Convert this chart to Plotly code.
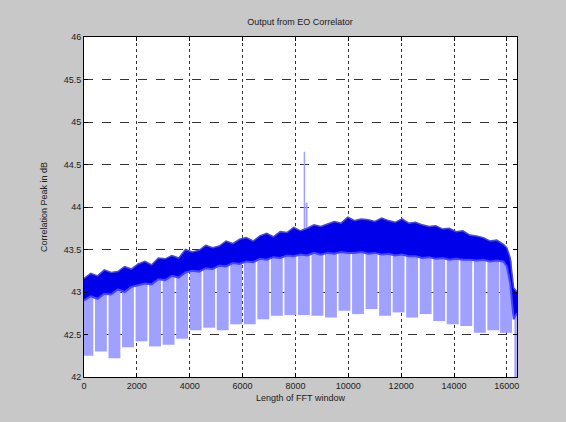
import numpy as np
import plotly.graph_objects as go

# ---- data ----
band_x = [0, 256, 512, 768, 1024, 1280, 1536, 1792, 2048, 2304, 2560, 2816, 3072, 3328,
          3584, 3840, 4096, 4352, 4608, 4864, 5120, 5376, 5632, 5888, 6144, 6400, 6656,
          6912, 7168, 7424, 7680, 7936, 8192, 8448, 8704, 8960, 9216, 9472, 9728, 9984,
          10240, 10496, 10752, 11008, 11264, 11520, 11776, 12032, 12288, 12544, 12800,
          13056, 13312, 13568, 13824, 14080, 14336, 14592, 14848, 15104, 15360, 15616,
          15872, 16000, 16128, 16256, 16384]
band_hi = [43.16, 43.22, 43.19, 43.26, 43.23, 43.24, 43.30, 43.27, 43.33, 43.36, 43.32,
           43.40, 43.39, 43.43, 43.40, 43.50, 43.47, 43.49, 43.55, 43.52, 43.54, 43.60,
           43.57, 43.62, 43.64, 43.60, 43.66, 43.69, 43.65, 43.71, 43.70, 43.76, 43.72,
           43.75, 43.79, 43.77, 43.80, 43.83, 43.81, 43.88, 43.84, 43.86, 43.85, 43.83,
           43.87, 43.84, 43.82, 43.86, 43.81, 43.82, 43.79, 43.77, 43.78, 43.74, 43.75,
           43.71, 43.72, 43.67, 43.66, 43.64, 43.60, 43.61, 43.56, 43.52, 43.40, 43.05,
           43.00]
band_lo = [42.90, 42.95, 42.92, 42.98, 42.97, 43.03, 43.00, 43.06, 43.08, 43.10, 43.09,
           43.15, 43.14, 43.19, 43.17, 43.23, 43.25, 43.24, 43.28, 43.27, 43.31, 43.30,
           43.34, 43.33, 43.36, 43.35, 43.39, 43.38, 43.41, 43.40, 43.43, 43.42, 43.44,
           43.43, 43.46, 43.44, 43.46, 43.45, 43.47, 43.46, 43.46, 43.47, 43.45, 43.46,
           43.44, 43.45, 43.43, 43.44, 43.42, 43.42, 43.40, 43.41, 43.39, 43.40, 43.38,
           43.39, 43.38, 43.38, 43.37, 43.38, 43.36, 43.37, 43.36, 43.30, 43.10, 42.68,
           42.75]

dip_x = [128, 640, 1152, 1664, 2176, 2688, 3200, 3712, 4224, 4736, 5248, 5760, 6272,
         6784, 7296, 7808, 8320, 8832, 9344, 9856, 10368, 10880, 11392, 11904, 12416,
         12928, 13440, 13952, 14464, 14976, 15488, 15968]
dip_lo = [42.25, 42.30, 42.22, 42.35, 42.42, 42.36, 42.38, 42.45, 42.55, 42.58, 42.55,
          42.62, 42.62, 42.68, 42.72, 42.73, 42.73, 42.72, 42.70, 42.78, 42.74, 42.80,
          42.72, 42.76, 42.70, 42.74, 42.66, 42.62, 42.60, 42.52, 42.55, 42.52]

end_dip_x = [16330]
end_dip_lo = [42.0]
end_dip_hi = [43.0]

spike_x = [8340, 8340, 8420, 8420]
spike_y = [43.70, 44.65, 43.75, 44.05]

x_ticks = [0, 2000, 4000, 6000, 8000, 10000, 12000, 14000, 16000]
x_tick_labels = ["0", "2000", "4000", "6000", "8000", "10000", "12000", "14000", "16000"]
y_ticks = [42, 42.5, 43, 43.5, 44, 44.5, 45, 45.5, 46]
y_tick_labels = ["42", "42.5", "43", "43.5", "44", "44.5", "45", "45.5", "46"]

LIGHT = "rgb(160,160,255)"
MID = "rgb(70,70,250)"
DARK = "rgb(0,0,235)"

fig = go.Figure()

# light blue dip strips
dip_top = np.interp(dip_x, band_x, band_lo) + 0.05
fig.add_trace(go.Bar(x=dip_x, base=dip_lo, y=np.array(dip_top) - np.array(dip_lo),
                     width=450, marker=dict(color=LIGHT, line=dict(width=0)),
                     hoverinfo="skip"))
fig.add_trace(go.Bar(x=end_dip_x, base=end_dip_lo,
                     y=np.array(end_dip_hi) - np.array(end_dip_lo),
                     width=90, marker=dict(color=LIGHT, line=dict(width=0)),
                     hoverinfo="skip"))

# spike
fig.add_trace(go.Scatter(x=spike_x[:2], y=spike_y[:2], mode="lines",
                         line=dict(color=LIGHT, width=1.5)))
fig.add_trace(go.Scatter(x=spike_x[2:], y=spike_y[2:], mode="lines",
                         line=dict(color=LIGHT, width=2)))

# dark dense band
fig.add_trace(go.Scatter(x=band_x, y=band_lo, mode="lines",
                         line=dict(color=MID, width=2)))
fig.add_trace(go.Scatter(x=band_x, y=band_hi, mode="lines", fill="tonexty",
                         fillcolor=DARK, line=dict(color=MID, width=1.5)))

fig.update_layout(
    width=566, height=422,
    paper_bgcolor="#c8c8c8", plot_bgcolor="white",
    margin=dict(l=84, r=49, t=37, b=45),
    showlegend=False, barmode="overlay",
    font=dict(family="Liberation Sans, Arial", size=9, color="#202020"),
    title=dict(text="Output from EO Correlator", x=300 / 566,
               xanchor="center", y=1 - 22 / 422, yanchor="middle",
               font=dict(size=9)),
)
fig.update_xaxes(range=[0, 16384], tickvals=x_ticks, ticktext=x_tick_labels,
                 ticks="inside", ticklen=4,
                 tickcolor="black", showline=True, linecolor="black", mirror="ticks",
                 showgrid=True, gridcolor="#333333", griddash="dot", gridwidth=1,
                 zeroline=False,
                 title=dict(text="Length of FFT window", standoff=4, font=dict(size=9)))
fig.update_yaxes(range=[42, 46], tickvals=y_ticks, ticktext=y_tick_labels,
                 ticks="inside", ticklen=4, tickcolor="black", showline=True,
                 linecolor="black", mirror="ticks", showgrid=True, gridcolor="#333333",
                 griddash="dash", gridwidth=1, zeroline=False,
                 title=dict(text="Correlation Peak in dB", standoff=14, font=dict(size=9)))

fig.write_html("out.html", config={"displayModeBar": False},
               post_script="document.body.style.margin='0';")
